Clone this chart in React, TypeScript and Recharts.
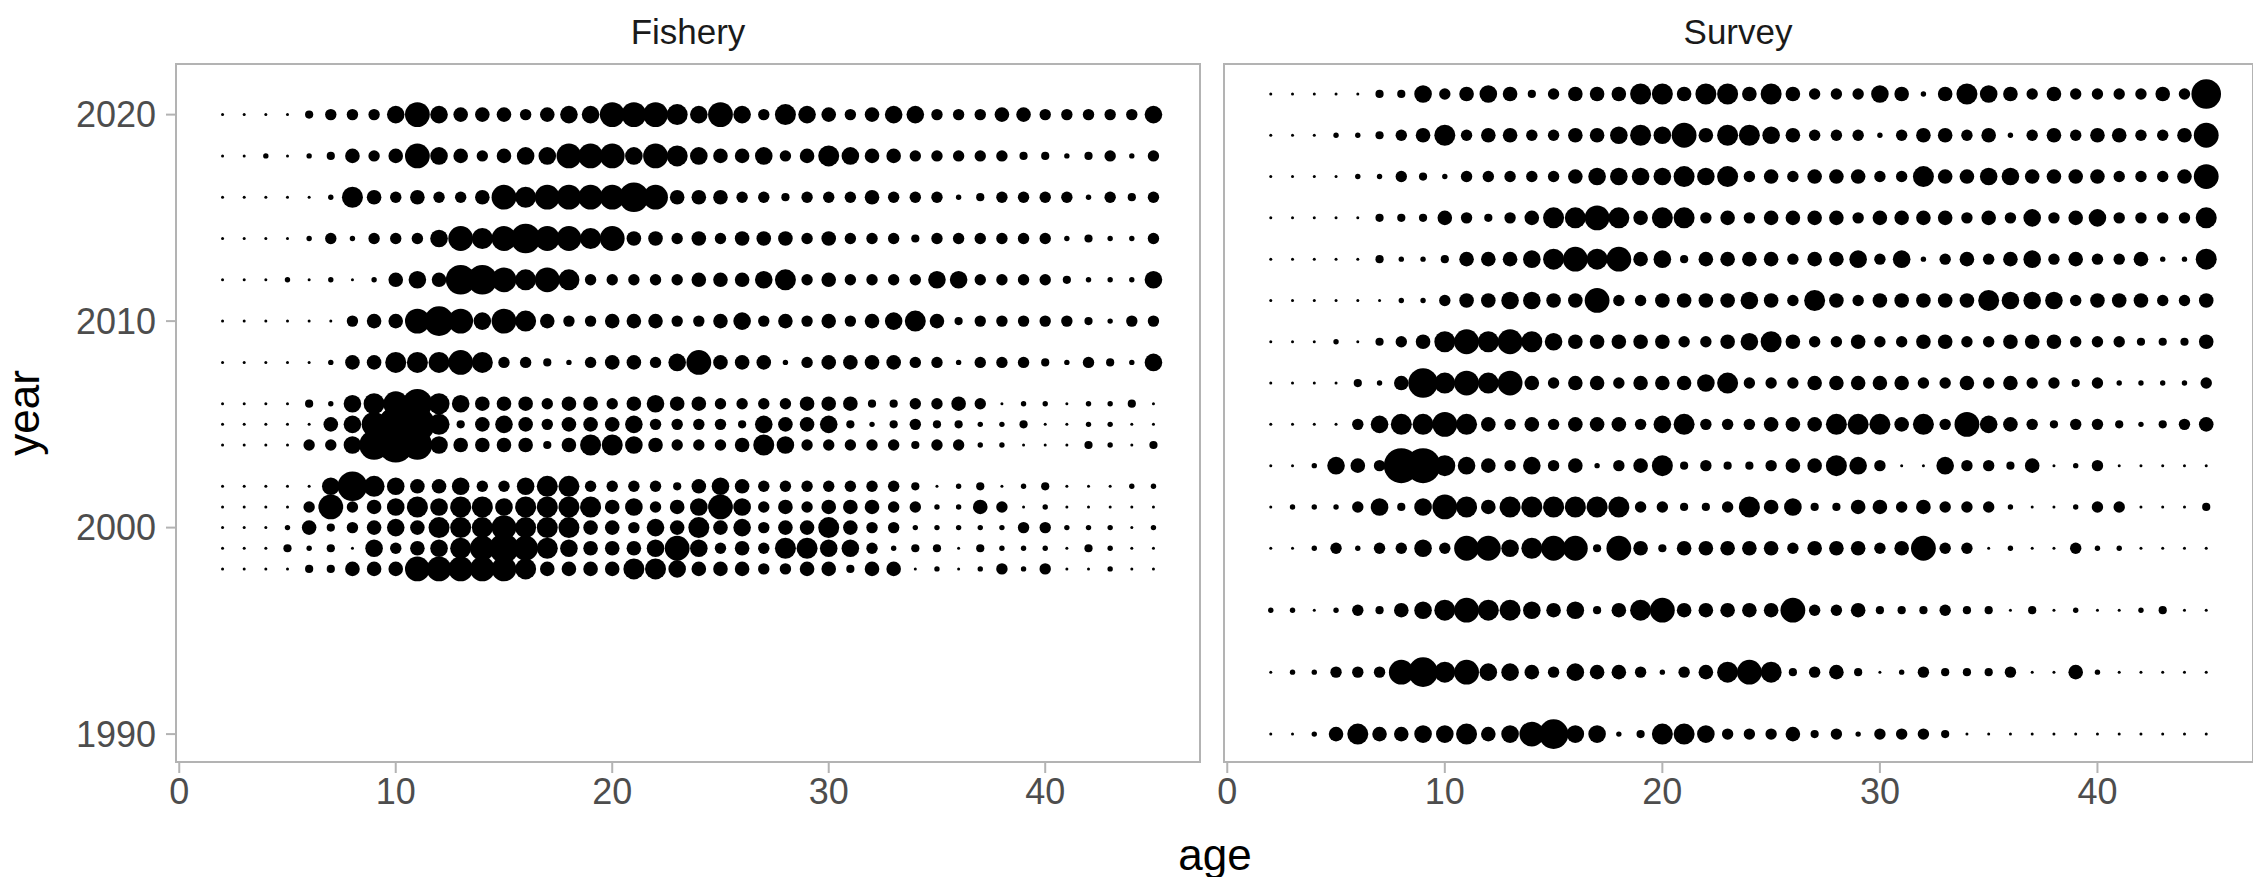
import React from "react";
import { ScatterChart, Scatter, XAxis, YAxis } from "recharts";

// Size class (0 = smallest .. 9 = largest) of each bubble, ages 2..45.
const ages: number[] = Array.from({ length: 44 }, (_, i) => i + 2);

const fisheryYears = [2020, 2018, 2016, 2014, 2012, 2010, 2008, 2006, 2005, 2004, 2002, 2001, 2000, 1999, 1998];
const fisheryClasses = [
  "0000233357544434557776" + "5753654345533344333335",
  "0010124347543455777576" + "5445346544333332212313",
  "0000016434334767777874" + "4433233343331233331323",
  "0000131333576787767443" + "4344434333233333312113",
  "0001010145488767633333" + "4445634333355333321115",
  "0000003447875764334443" + "3453434345642333332133",
  "0000014466676332134435" + "7444134444331333213215",
  "0000215678654443443454" + "4333344422334301101120",
  "0000045799624543444533" + "3325445212322112001100",
  "0000335898544442466543" + "3346533333233110002102",
  "0000058654453356633332" + "4543333333201201200011",
  "0000373456566566664534" + "5753434443311430100000",
  "0001423454666766644354" + "6453446433111113311101",
  "0002120534567876544457" + "5343665531220211102100",
  "0000224447777764444665" + "4443344244010131300100",
];

const surveyYears = [2021, 2019, 2017, 2015, 2013, 2011, 2009, 2007, 2005, 2003, 2001, 1999, 1996, 1993, 1990];
const surveyClasses = [
  "0000022534542344466466" + "4643335414654343333438",
  "0001123463443344565746" + "6543331344341343443347",
  "0000113213333345555656" + "3434443364455444433347",
  "0000022243234667646634" + "3444434444343534533336",
  "0000021124445676745244" + "4434453513434534334116",
  "0000001134455447334444" + "5436434444465553444334",
  "0001023467676544444334" + "5643343344334443332224",
  "0000214867674344344456" + "3334444433434332311113",
  "0000356676434344435633" + "3444666463754323321234",
  "0015439965435341346232" + "2344653005332401300000",
  "0111352576466666633223" + "6452244343331001330002",
  "0013133537756772742444" + "4434443473301003110000",
  "1101324567665452467444" + "4473342223220201001200",
  "0113337867554354431346" + "7623420132223004100000",
  "0014644556457855126653" + "3342313332000000000000",
];

const xTicks = [0, 10, 20, 30, 40];
const yTicks = [1990, 2000, 2010, 2020];

// style: bubble radius per size class
const RADIUS = [1.5, 2.7, 4.1, 5.7, 7.3, 8.8, 10.5, 12.4, 14.8, 17.5];

function buildPoints(years: number[], classes: string[]) {
  const pts: { age: number; year: number; z: number }[] = [];
  years.forEach((year, r) => {
    ages.forEach((age, i) => {
      pts.push({ age, year, z: Number(classes[r][i]) });
    });
  });
  return pts;
}

const fisheryData = buildPoints(fisheryYears, fisheryClasses);
const surveyData = buildPoints(surveyYears, surveyClasses);

const Bubble = (props: any) => {
  const { cx, cy, payload } = props;
  if (cx == null || cy == null) return null;
  return <circle cx={cx} cy={cy} r={RADIUS[payload.z]} fill="#000" />;
};

const tickStyle = { fill: "#4d4d4d", fontSize: 36, fontFamily: "Liberation Sans, Arial, sans-serif" };

function Panel({ data, width, showY, left }: { data: any[]; width: number; showY: boolean; left: number }) {
  return (
    <ScatterChart width={width} height={885} margin={{ top: 63, right: 10, bottom: 62, left }}>
      <XAxis
        type="number"
        dataKey="age"
        domain={[-0.15, 47.15]}
        ticks={xTicks}
        allowDataOverflow
        height={60}
        tickSize={10}
        tickMargin={5}
        axisLine={false}
        tickLine={{ stroke: "#b3b3b3", strokeWidth: 2 }}
        tick={tickStyle}
        interval={0}
      />
      <YAxis
        type="number"
        dataKey="year"
        domain={[1988.6, 2022.5]}
        ticks={yTicks}
        allowDataOverflow
        hide={!showY}
        width={176}
        tickSize={10}
        tickMargin={10}
        axisLine={false}
        tickLine={{ stroke: "#b3b3b3", strokeWidth: 2 }}
        tick={tickStyle}
        interval={0}
      />
      <Scatter data={data} shape={<Bubble />} isAnimationActive={false} />
    </ScatterChart>
  );
}

const border = (left: number, width: number): React.CSSProperties => ({
  position: "absolute",
  left,
  top: 63,
  width,
  height: 700,
  border: "2px solid #b3b3b3",
  boxSizing: "border-box",
  pointerEvents: "none",
});

const titleStyle: React.CSSProperties = {
  position: "absolute",
  fontFamily: "Liberation Sans, Arial, sans-serif",
  color: "#1a1a1a",
  whiteSpace: "nowrap",
  lineHeight: 1,
};

export default function App() {
  return (
    <div style={{ position: "relative", width: 2261, height: 885, margin: -8, background: "#fff", overflow: "hidden" }}>
      <div style={{ position: "absolute", left: 0, top: 0 }}>
        <Panel data={fisheryData} width={1210} showY={true} left={0} />
      </div>
      <div style={{ position: "absolute", left: 1194, top: 0 }}>
        <Panel data={surveyData} width={1069} showY={false} left={30} />
      </div>
      <div style={border(175, 1026)} />
      <div style={border(1223, 1031)} />
      <div style={{ ...titleStyle, left: 688, top: 31, fontSize: 35, transform: "translate(-50%,-50%)" }}>Fishery</div>
      <div style={{ ...titleStyle, left: 1738, top: 31, fontSize: 35, transform: "translate(-50%,-50%)" }}>Survey</div>
      <div style={{ ...titleStyle, left: 1215, top: 855, fontSize: 44, transform: "translate(-50%,-50%)", color: "#000" }}>age</div>
      <div style={{ ...titleStyle, left: 24, top: 413, fontSize: 44, transform: "translate(-50%,-50%) rotate(-90deg)", color: "#000" }}>year</div>
    </div>
  );
}
